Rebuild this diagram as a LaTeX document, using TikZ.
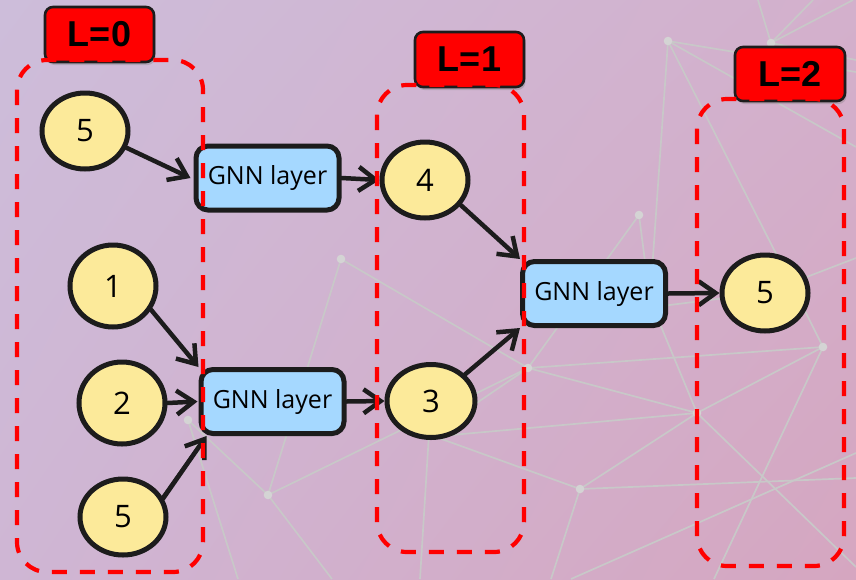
\documentclass[tikz,border=0pt]{standalone}
\usepackage{fontspec}
\usetikzlibrary{shapes.geometric,arrows.meta,shadows,shadings}
\newfontfamily\handfont{Open Sans}
\newfontfamily\lblfont{Liberation Sans}
\definecolor{bgUL}{RGB}{205,189,218}
\definecolor{bgUR}{RGB}{211,176,204}
\definecolor{bgLL}{RGB}{207,182,212}
\definecolor{bgLR}{RGB}{213,166,192}
\definecolor{ink}{RGB}{28,28,28}
\definecolor{nodeyellow}{RGB}{252,234,154}
\definecolor{gnnblue}{RGB}{165,216,255}
\definecolor{netgray}{RGB}{200,200,200}
\definecolor{dotgray}{RGB}{212,212,212}
\tikzset{
  num/.style={ellipse, draw=ink, line width=5pt, fill=nodeyellow, minimum width=86pt, minimum height=76pt, inner sep=0pt, font=\handfont\fontsize{31}{31}\selectfont},
  gnn/.style={rectangle, rounded corners=12pt, draw=ink, line width=5pt, fill=gnnblue, minimum width=143pt, minimum height=64pt, inner sep=0pt, font=\handfont\fontsize{25}{25}\selectfont},
  lbox/.style={rectangle, rounded corners=8pt, draw=ink, line width=2.6pt, fill=red, minimum width=109pt, minimum height=55pt, inner sep=0pt, font=\lblfont\bfseries\fontsize{36}{36}\selectfont, drop shadow={shadow xshift=1.5pt, shadow yshift=-3pt, opacity=0.35}},
  grp/.style={draw=red, line width=4.2pt, dash pattern=on 15pt off 13pt, rounded corners=30pt},
  arr/.style={draw=ink, line width=4.5pt, line cap=round, -{Straight Barb[length=17pt,width=24pt]}},
  net/.style={draw=netgray, line width=1.7pt},
  netdot/.style={fill=dotgray, draw=none},
}
\begin{document}
\begin{tikzpicture}[x=1pt,y=-1pt]
\useasboundingbox (0,0) rectangle (856,579);
\shade[upper left=bgUL, upper right=bgUR, lower left=bgLL, lower right=bgLR] (0,0) rectangle (856,579);

% background network
\coordinate (p1) at (668,41);
\coordinate (p2) at (771,43);
\coordinate (p3) at (639,215);
\coordinate (p4) at (341,259);
\coordinate (p5) at (188,420);
\coordinate (p6) at (268,495);
\coordinate (p7) at (528,368);
\coordinate (p8) at (697,413);
\coordinate (p9) at (823,347);
\coordinate (p10) at (580,489);
\coordinate (h1) at (650,300);
\coordinate (h2) at (796,293);
\coordinate (h4) at (630,310);
\coordinate (h5) at (765,293);
\coordinate (h6) at (440,428);
\coordinate (h7) at (440,436);
\coordinate (h8) at (436,437);
\coordinate (h9) at (431,401);
\coordinate (e1) at (758,0);
\coordinate (e2) at (813,0);
\coordinate (e3) at (853,0);
\coordinate (e4) at (856,60);
\coordinate (e5) at (856,72);
\coordinate (e6) at (856,147);
\coordinate (e7) at (238,579);
\coordinate (e8) at (332,579);
\coordinate (e9) at (856,567);
\coordinate (e10) at (714,579);
\coordinate (e11) at (551,579);
\coordinate (e12) at (856,478);
\coordinate (e13) at (856,453);
\coordinate (e14) at (571,579);
\coordinate (e15) at (420,579);
\coordinate (e16) at (856,258);
\draw[net] (p1)--(e5) (p1)--(e6) (p1)--(h1) (p1)--(h2);
\draw[net] (p2)--(e1) (p2)--(e2) (p2)--(e3) (p2)--(e4);
\draw[net] (p3)--(p7) (p3)--(h1) (h1)--(p8) (h4)--(h5);
\draw[net] (p4)--(p7) (p4)--(p6);
\draw[net] (p5)--(p6) (p5)--(e7);
\draw[net] (p6)--(p7) (p6)--(e8);
\draw[net] (p7)--(p9) (p7)--(p8) (p7)--(h6);
\draw[net] (p8)--(p9) (p8)--(p10) (p8)--(e9) (p8)--(h7);
\draw[net] (p9)--(e10) (p9)--(h2);
\draw[net] (p10)--(h8) (p10)--(e11) (p10)--(e12);
\draw[net] (e13)--(e14) (h9)--(e15) (h5)--(e16);
\foreach \p in {p1,p2,p3,p4,p5,p6,p7,p8,p9,p10}
  \fill[netdot] (\p) circle (4.3pt);

% nodes
\node[num] (n5a) at (85,131) {5};
\node[num] (n4) at (425,180) {4};
\node[num, minimum height=82pt] (n1) at (113,286) {1};
\node[num, minimum height=82pt] (n2) at (122,403) {2};
\node[num] (n5b) at (123,517) {5};
\node[num, minimum width=88pt, minimum height=73pt] (n3) at (431,401) {3};
\node[num] (n5c) at (765,293) {5};

\node[gnn] (gA) at (267.5,178) {GNN layer};
\node[gnn] (gB) at (272.5,401.5) {GNN layer};
\node[gnn] (gC) at (594,293.5) {GNN layer};

% arrows
\draw[arr] (n5a.-22) -- ([xshift=-3pt]gA.west);
\draw[arr] (gA.east) -- (n4.west);
\draw[arr] (n4.-35) -- (gC.north west);
\draw[arr] (n1.-32) -- (gB.north west);
\draw[arr] (n2.east) -- ([xshift=-1pt]gB.west);
\draw[arr] (n5b.25) -- ([xshift=8pt]gB.south west);
\draw[draw=ink, line width=2.6pt] ([xshift=-3pt,yshift=-2pt]n5b.25) -- ([xshift=5pt,yshift=-3pt]gB.south west);
\draw[arr] (gB.east) -- (n3.west);
\draw[arr] (n3.38) -- (gC.south west);
\draw[arr] (gC.east) -- (n5c.west);

% level labels
\node[lbox] (l0) at (99.5,34.5) {L=0};
\node[lbox] (l1) at (469.5,59.5) {L=1};
\node[lbox, minimum width=110pt, minimum height=54pt] (l2) at (790,74) {L=2};

% dashed groups
\draw[grp] (17,60) rectangle (203,572);
\draw[grp] (377,85) rectangle (524,552);
\draw[grp] (697,99) rectangle (844,566);
\end{tikzpicture}
\end{document}
